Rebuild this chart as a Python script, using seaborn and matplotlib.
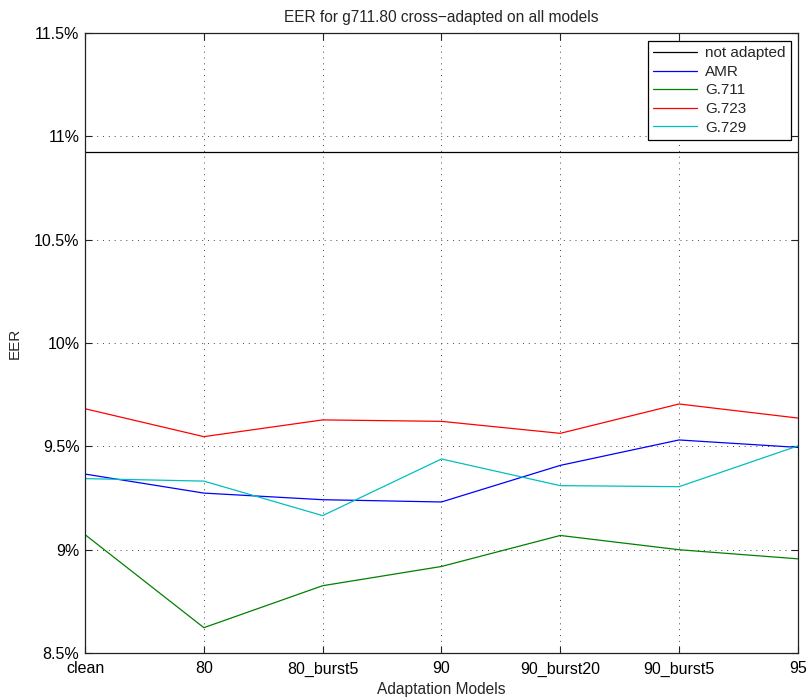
import matplotlib
matplotlib.use("Agg")
import matplotlib.pyplot as plt
from matplotlib.ticker import FuncFormatter
import seaborn as sns
import pandas as pd

models = ['clean', '80', '80_burst5', '90', '90_burst20', '90_burst5', '95']
not_adapted = 10.923
amr = [9.366, 9.274, 9.242, 9.231, 9.408, 9.531, 9.495]
g711 = [9.073, 8.623, 8.826, 8.919, 9.069, 9.000, 8.956]
g723 = [9.682, 9.547, 9.628, 9.621, 9.563, 9.705, 9.637]
g729 = [9.344, 9.332, 9.165, 9.439, 9.310, 9.305, 9.502]

series = {
    'not adapted': [not_adapted] * len(models),
    'AMR': amr,
    'G.711': g711,
    'G.723': g723,
    'G.729': g729,
}
colores = ['#000000', '#0000ff', '#008000', '#ff0000', '#00bfbf']

df = pd.DataFrame([
    {'pos': i, 'modelo': m, 'serie': s, 'eer': v[i]}
    for s, v in series.items() for i, m in enumerate(models)
])

sns.set_theme(style="white")
plt.rcParams['font.family'] = ['Liberation Sans', 'DejaVu Sans']
plt.rcParams['font.size'] = 11

fig = plt.figure(figsize=(8.1, 7), dpi=100)
ax = fig.add_axes([0.105, 0.067, 0.880, 0.886])

sns.lineplot(data=df, x='pos', y='eer', hue='serie', palette=colores,
             linewidth=0.9, ax=ax, legend=True)

ax.set_xlim(0, len(models) - 1)
ax.set_ylim(8.5, 11.5)
ax.set_xticks(range(len(models)))
ax.set_xticklabels(models)
ax.set_yticks([8.5, 9, 9.5, 10, 10.5, 11, 11.5])
ax.yaxis.set_major_formatter(FuncFormatter(lambda v, p: f"{v:g}%"))
ax.grid(True, linestyle=(0, (1, 5)), color='#444444', linewidth=0.7)
ax.tick_params(direction='in', length=5, width=0.8, colors='#222222',
               labelsize=11.5, top=True, right=True, bottom=True, left=True,
               labelcolor='black')
ax.tick_params(axis='y', pad=4)
ax.tick_params(axis='x', pad=6)
for sp in ax.spines.values():
    sp.set_color('#222222')
    sp.set_linewidth(0.9)

ax.set_title('EER for g711.80 cross\u2212adapted on all models', fontsize=11.2, pad=8)
ax.set_xlabel('Adaptation Models', fontsize=11.2, labelpad=4)
ax.set_ylabel('EER', fontsize=11, labelpad=9)

leg = ax.legend(loc='upper right', bbox_to_anchor=(0.990, 0.987), fontsize=11,
                frameon=True, fancybox=False, edgecolor='black', framealpha=1,
                handlelength=2.9, handletextpad=0.5, borderpad=0.35,
                labelspacing=0.3, borderaxespad=0)
leg.get_frame().set_linewidth(0.9)

fig.savefig('out.png', dpi=100)
